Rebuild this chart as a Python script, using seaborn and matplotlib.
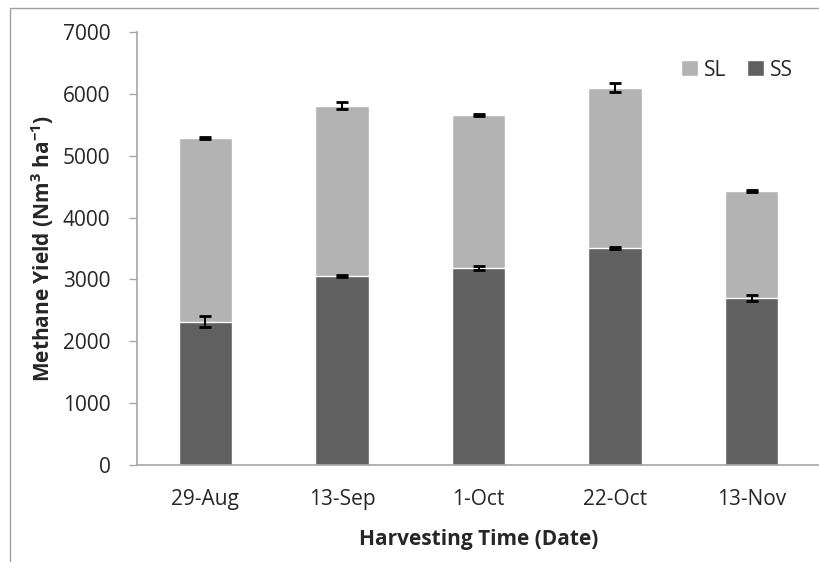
import matplotlib
matplotlib.use("Agg")
import matplotlib.pyplot as plt
import seaborn as sns
import pandas as pd
from matplotlib.patches import Rectangle, Patch

# ---- data ----
datas = ["29-Aug", "13-Sep", "1-Oct", "22-Oct", "13-Nov"]
ss_yield = [2315, 3060, 3190, 3505, 2700]      # SS (bottom)
total_yield = [5280, 5810, 5658, 6100, 4428]   # SS + SL (top of stack)
ss_err = [90, 18, 35, 15, 55]
total_err = [15, 60, 10, 75, 10]

COR_SL = "#b3b3b3"
COR_SS = "#606060"

df = pd.DataFrame({"data": datas, "SS": ss_yield, "total": total_yield})

sns.set_style("white")
plt.rcParams["font.family"] = ["Open Sans", "DejaVu Sans"]
plt.rcParams["mathtext.fontset"] = "custom"
plt.rcParams["mathtext.rm"] = "Open Sans"
plt.rcParams["mathtext.bf"] = "Open Sans:bold"

FS = 15

fig = plt.figure(figsize=(8.2, 5.62), dpi=100)
ax = fig.add_axes([137 / 820, 97 / 562, 683 / 820, 433 / 562])

sns.barplot(data=df, x="data", y="total", color=COR_SL, width=0.39,
            saturation=1, ax=ax)
sns.barplot(data=df, x="data", y="SS", color=COR_SS, width=0.39,
            saturation=1, ax=ax)

pos = list(range(len(datas)))
ax.errorbar(pos, total_yield, yerr=total_err, fmt="none", ecolor="black",
            elinewidth=1.5, capsize=4.5, capthick=2)
ax.errorbar(pos, ss_yield, yerr=ss_err, fmt="none", ecolor="black",
            elinewidth=1.5, capsize=4.5, capthick=2)

ax.set_ylim(0, 7000)
ax.set_yticks(range(0, 7001, 1000))
ax.set_xlim(-0.5, len(datas) - 0.5)

# ticks between categories like Excel
ax.set_xticks([p - 0.5 for p in range(len(datas) + 1)], minor=True)
ax.tick_params(axis="x", which="major", length=0, pad=17, labelsize=FS)
ax.tick_params(axis="x", which="minor", length=6, color="#a6a6a6", width=1)
ax.tick_params(axis="y", length=6, color="#a6a6a6", width=1, labelsize=FS,
               pad=13, left=True)

for s in ["top", "right"]:
    ax.spines[s].set_visible(False)
for s in ["left", "bottom"]:
    ax.spines[s].set_color("#a6a6a6")
    ax.spines[s].set_linewidth(1.2)

ax.set_xlabel("Harvesting Time (Date)", fontsize=FS, fontweight="bold",
              labelpad=14)
ax.set_ylabel(r"Methane Yield (Nm$^{\mathbf{3}}$ ha$^{\mathbf{-1}}$)",
              fontsize=FS, fontweight="bold", labelpad=5)

handles = [Patch(facecolor=COR_SL, label="SL"), Patch(facecolor=COR_SS, label="SS")]
fig.legend(handles=handles, loc="center right", bbox_to_anchor=(812 / 820, 1 - 70 / 562),
           ncol=2, frameon=False, fontsize=FS, handlelength=0.8,
           handleheight=0.8, handletextpad=0.3, columnspacing=1.0)

# chart border
fig.patches.append(Rectangle((10 / 820, -0.05), 1.0, 1 - 8 / 562 + 0.05,
                             transform=fig.transFigure, fill=False,
                             edgecolor="#a0a0a0", linewidth=1))

fig.savefig("out.png", dpi=100)
